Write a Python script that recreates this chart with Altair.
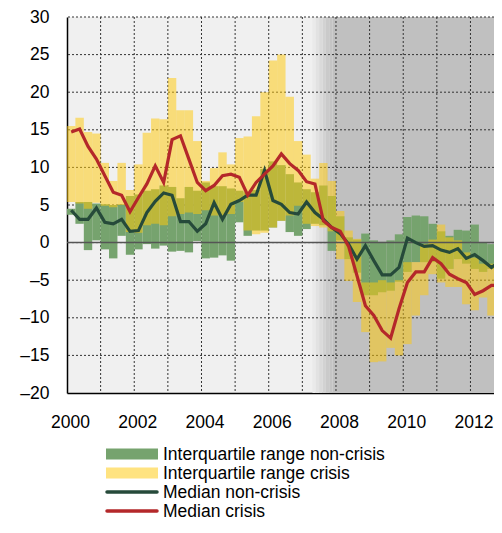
import altair as alt
import pandas as pd

# ---------------- data (quarterly, 2000Q1 .. 2012Q4) ----------------
start_year = 2000
n_quarters = 52

med_nc = [4.3, 3.1, 3.1, 4.6, 2.7, 2.5, 3.1, 1.5, 1.6, 4.0, 5.5, 6.6,
          6.3, 2.8, 2.8, 1.5, 2.5, 5.3, 3.1, 5.1, 5.6, 6.3, 6.3, 9.6,
          5.6, 5.1, 4.0, 3.8, 5.4, 4.0, 3.1, 2.0, 1.2, -0.2, -2.2, -0.4,
          -2.4, -4.3, -4.3, -3.3, 0.6, 0.0, -0.5, -0.4, -1.0, -1.3, -0.8, -2.1,
          -1.6, -2.4, -3.3, -2.5]
med_c = [14.7, 15.1, 12.8, 11.1, 8.9, 6.7, 6.3, 4.1, 6.0, 7.8, 10.2, 8.0,
         13.7, 14.2, 11.1, 8.0, 6.9, 7.6, 8.9, 9.1, 8.7, 6.3, 8.0, 9.1,
         10.2, 11.8, 10.5, 9.6, 8.1, 7.8, 2.9, 2.0, 1.5, -0.5, -4.4, -8.4,
         -9.7, -11.7, -12.7, -8.8, -5.3, -3.9, -3.9, -2.0, -2.8, -4.2, -4.8, -5.3,
         -6.9, -6.4, -5.7, -5.7]
nc_hi = [4.5, 5.4, 5.4, 5.2, 5.1, 5.0, 5.1, 6.2, 6.4, 6.9, 7.1, 7.6,
         7.4, 5.9, 7.4, 6.9, 8.0, 7.5, 7.5, 7.2, 6.9, 6.7, 7.0, 9.8,
         10.8, 10.3, 9.1, 8.0, 7.1, 6.7, 7.6, 6.2, 3.5, 0.7, 0.4, 1.2,
         0.3, 0.1, 0.3, 1.1, 3.4, 3.6, 3.5, 2.5, 1.5, 0.9, 1.7, 1.6,
         2.4, 0.0, -0.2, 0.5]
nc_lo = [3.7, 2.5, -1.0, 0.3, -0.9, -2.1, 0.9, -1.6, -0.9, -0.2, -0.8, -0.4,
         -1.2, -1.1, -1.3, 0.2, -2.1, -2.0, -1.7, -2.4, 2.7, 0.9, 1.6, 1.6,
         2.0, 2.9, 1.4, 0.9, 1.8, 2.5, 2.3, -1.1, 0.3, -2.2, -4.0, -7.0,
         -7.0, -6.6, -6.4, -5.2, -3.9, -2.6, -2.6, -2.6, -4.8, -3.5, -2.2, -2.8,
         -3.5, -3.9, -3.5, -4.0]
c_hi = [15.5, 16.6, 14.7, 14.5, 10.6, 8.2, 10.6, 7.0, 10.4, 14.6, 16.5, 16.4,
        21.9, 17.6, 17.6, 13.5, 8.2, 9.9, 12.0, 10.4, 13.9, 14.1, 16.8, 20.0,
        24.2, 25.0, 19.4, 13.5, 11.7, 8.5, 10.6, 8.2, 4.2, 1.6, 0.5, -5.3,
        -5.3, -5.0, -5.3, -5.0, -2.6, -2.6, -0.2, 0.4, 2.4, 0.7, 0.3, -1.3,
        -2.0, -2.8, -2.8, -3.3]
c_lo = [5.4, 5.2, 4.5, 5.3, 4.9, 4.7, 5.0, 1.4, 1.3, 2.3, 2.5, 2.3,
        3.5, 3.8, 4.0, 3.8, 4.3, 3.6, 3.6, 3.8, 5.4, 1.6, 1.1, 1.3,
        2.0, 2.9, 3.6, 4.9, 2.5, 2.2, 2.0, 1.5, -2.2, -5.1, -7.9, -11.9,
        -15.9, -15.8, -14.0, -15.0, -13.5, -9.7, -7.0, -4.2, -5.3, -5.9, -5.9, -8.2,
        -9.0, -7.3, -9.7, -10.2]

grid_years = list(range(2001, 2013))
grid_levels = [-15, -10, -5, 0, 5, 10, 15, 20, 25, 30]
x_ticks = [2000, 2002, 2004, 2006, 2008, 2010, 2012]
y_ticks = [-20, -15, -10, -5, 0, 5, 10, 15, 20, 25, 30]
legend_labels = ["Interquartile range non-crisis", "Interquartile range crisis",
                 "Median non-crisis", "Median crisis"]
crisis_start = 2007.3
x_end = 2012.7

# ---------------- tables ----------------
t0 = [start_year + i * 0.25 for i in range(n_quarters)]
df = pd.DataFrame({
    "t0": t0,
    "t1": [t + 0.25 for t in t0],
    "tm": [t + 0.125 for t in t0],
    "med_nc": med_nc, "med_c": med_c,
    "nc_lo": nc_lo, "nc_hi": nc_hi, "c_lo": c_lo, "c_hi": c_hi,
})

shade_cols = ["#eaeaea", "#e2e2e2", "#dadada", "#d2d2d2", "#cacaca", "#c4c4c4", "#c0c0c0"]
sx0 = [crisis_start + 0.1 * i for i in range(6)] + [crisis_start + 0.6]
sx1 = [crisis_start + 0.1 * (i + 1) for i in range(6)] + [x_end]
shade = pd.DataFrame({"x0": sx0, "x1": sx1, "col": shade_cols})

FONT = "Liberation Sans, Arial, sans-serif"
GREEN = "#76a36e"
YELLOW = "#ffca0c"
DKGREEN = "#264a3a"
RED = "#b4282a"

xs = alt.Scale(domain=[2000, x_end], nice=False, zero=False)
ys = alt.Scale(domain=[-20, 30], nice=False, zero=False)

X = lambda f: alt.X(f, type="quantitative", scale=xs, title=None,
                    axis=alt.Axis(values=x_ticks, format="d", labelPadding=20,
                                  labelOffset=3, labelFlush=False))
Y = lambda f: alt.Y(f, type="quantitative", scale=ys, title=None,
                    axis=alt.Axis(values=y_ticks, labelPadding=18, labelFlush=False,
                                  labelExpr="datum.value < 0 ? '\u2013' + abs(datum.value) : '' + datum.value"))

shade_layer = alt.Chart(shade).mark_rect(clip=True).encode(
    x=X("x0"), x2="x1", color=alt.Color("col:N", scale=None))

vgrid = alt.Chart(pd.DataFrame({"yr": grid_years})).mark_rule(
    color="#333333", strokeDash=[2, 2], strokeWidth=1).encode(x=X("yr"))
hgrid = alt.Chart(pd.DataFrame({"lv": grid_levels})).mark_rule(
    color="#333333", strokeDash=[2, 2], strokeWidth=1).encode(y=Y("lv"))

base = alt.Chart(df)
green_bars = base.mark_rect(color=GREEN, clip=True).encode(
    x=X("t0"), x2="t1", y=Y("nc_lo"), y2="nc_hi")
yellow_bars = base.mark_rect(color=YELLOW, opacity=0.52, clip=True).encode(
    x=X("t0"), x2="t1", y=Y("c_lo"), y2="c_hi")
zero = alt.Chart(pd.DataFrame({"z": [0]})).mark_rule(
    color="#555555", strokeWidth=1.5).encode(y=Y("z"))
line_nc = base.mark_line(color=DKGREEN, strokeWidth=3.2, clip=True).encode(
    x=X("tm"), y=Y("med_nc"))
line_c = base.mark_line(color=RED, strokeWidth=3.2, clip=True).encode(
    x=X("tm"), y=Y("med_c"))

# ---------------- legend ----------------
one = pd.DataFrame({"a": [0]})
row_y = [437.0, 456.0, 475.0, 494.0]
leg = []
leg.append(alt.Chart(one).mark_rect(color=GREEN).encode(
    x=alt.value(39), x2=alt.value(91), y=alt.value(row_y[0] - 5.5), y2=alt.value(row_y[0] + 5.5)))
leg.append(alt.Chart(one).mark_rect(color=YELLOW, opacity=0.52).encode(
    x=alt.value(39), x2=alt.value(91), y=alt.value(row_y[1] - 5.5), y2=alt.value(row_y[1] + 5.5)))
leg.append(alt.Chart(one).mark_rule(color=DKGREEN, strokeWidth=3.5, strokeCap="round").encode(
    x=alt.value(40), x2=alt.value(90), y=alt.value(row_y[2])))
leg.append(alt.Chart(one).mark_rule(color=RED, strokeWidth=3.5, strokeCap="round").encode(
    x=alt.value(40), x2=alt.value(90), y=alt.value(row_y[3])))
for lab, yy in zip(legend_labels, row_y):
    leg.append(alt.Chart(one).mark_text(align="left", baseline="middle", font=FONT,
                                        fontSize=17.5, color="black").encode(
        x=alt.value(96), y=alt.value(yy + 1), text=alt.value(lab)))

chart = alt.layer(shade_layer, vgrid, hgrid, green_bars, yellow_bars, zero,
                  line_nc, line_c, *leg).properties(
    width=427, height=376,
    padding={"left": 59, "top": 9, "right": 0, "bottom": 128},
    autosize="none",
).configure_view(fill="#f0f0f0", stroke=None).configure_axis(
    grid=False, ticks=False, domainColor="black", domainWidth=1.5,
    labelFont=FONT, labelFontSize=17.5, labelColor="black",
    labelOverlap=False,
)

chart.save("out.html", embed_options={"renderer": "svg", "actions": False})
